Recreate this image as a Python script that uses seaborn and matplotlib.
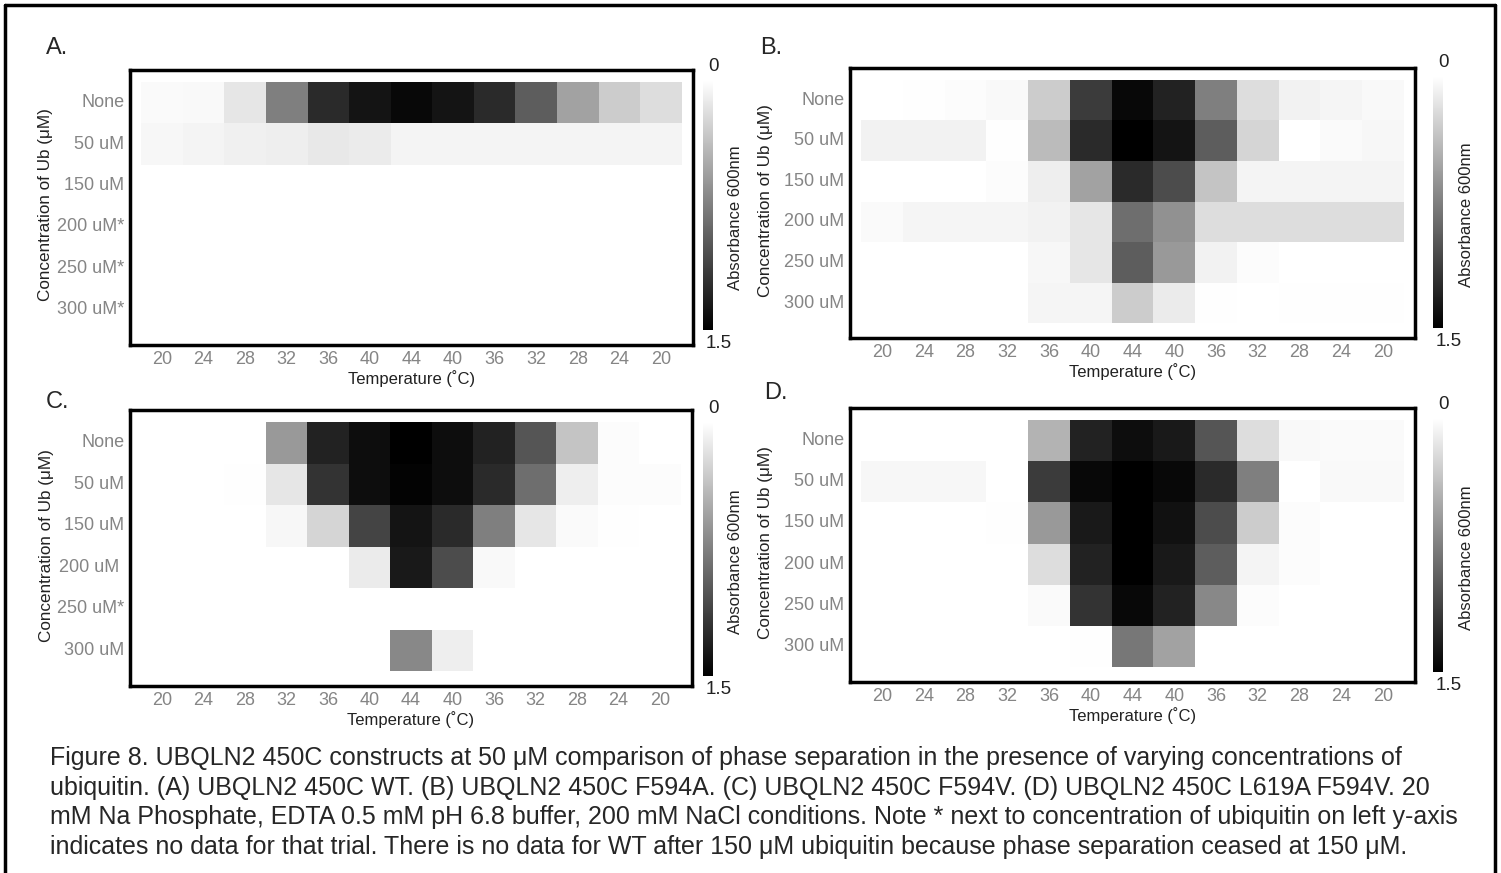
import seaborn as sns
import pandas as pd
import matplotlib.pyplot as plt
import numpy as np
from matplotlib.lines import Line2D

nan = np.nan

# x axis: temperature ramp up and back down
temps = ["20", "24", "28", "32", "36", "40", "44", "40", "36", "32", "28", "24", "20"]

# A. UBQLN2 450C WT  (no data after 150 uM)
concsA = ["None", "50 uM", "150 uM", "200 uM*", "250 uM*", "300 uM*"]
wt_none = [0.03, 0.04, 0.15, 0.75, 1.25, 1.38, 1.45, 1.38, 1.25, 0.95, 0.55, 0.30, 0.20]
wt_50 = [0.05, 0.07, 0.09, 0.10, 0.14, 0.12, 0.07, 0.07, 0.07, 0.07, 0.07, 0.07, 0.07]
wt_150 = [nan] * 13
wt_200 = [nan] * 13
wt_250 = [nan] * 13
wt_300 = [nan] * 13

# B. UBQLN2 450C F594A
concsB = ["None", "50 uM", "150 uM", "200 uM", "250 uM", "300 uM"]
fa_none = [0.00, 0.01, 0.02, 0.04, 0.30, 1.15, 1.45, 1.30, 0.75, 0.20, 0.08, 0.06, 0.04]
fa_50 = [0.08, 0.08, 0.08, 0.01, 0.40, 1.25, 1.50, 1.38, 0.95, 0.25, 0.00, 0.03, 0.05]
fa_150 = [0.00, 0.00, 0.00, 0.02, 0.10, 0.55, 1.25, 1.05, 0.35, 0.07, 0.07, 0.07, 0.07]
fa_200 = [0.03, 0.06, 0.06, 0.06, 0.08, 0.15, 0.85, 0.65, 0.20, 0.20, 0.20, 0.20, 0.20]
fa_250 = [0.00, 0.00, 0.00, 0.00, 0.05, 0.15, 0.95, 0.60, 0.08, 0.02, 0.00, 0.00, 0.00]
fa_300 = [0.00, 0.00, 0.00, 0.00, 0.06, 0.06, 0.30, 0.12, 0.01, 0.00, 0.01, 0.01, 0.01]

# C. UBQLN2 450C F594V  (no data at 250 uM)
concsC = ["None", "50 uM", "150 uM", "200 uM ", "250 uM*", "300 uM"]
fv_none = [0.00, 0.00, 0.00, 0.60, 1.30, 1.42, 1.50, 1.42, 1.30, 1.00, 0.35, 0.02, 0.00]
fv_50 = [0.00, 0.00, 0.01, 0.15, 1.20, 1.42, 1.48, 1.42, 1.25, 0.85, 0.10, 0.02, 0.02]
fv_150 = [0.00, 0.00, 0.00, 0.05, 0.25, 1.10, 1.38, 1.25, 0.75, 0.15, 0.03, 0.01, 0.00]
fv_200 = [nan, nan, nan, nan, 0.00, 0.12, 1.35, 1.05, 0.04, nan, nan, nan, nan]
fv_250 = [nan] * 13
fv_300 = [nan, nan, nan, nan, nan, 0.00, 0.70, 0.10, 0.00, nan, nan, nan, nan]

# D. UBQLN2 450C L619A F594V
concsD = ["None", "50 uM", "150 uM", "200 uM", "250 uM", "300 uM"]
lf_none = [0.00, 0.00, 0.00, 0.00, 0.45, 1.30, 1.42, 1.35, 1.00, 0.20, 0.04, 0.03, 0.03]
lf_50 = [0.05, 0.05, 0.05, 0.00, 1.15, 1.45, 1.50, 1.45, 1.25, 0.75, 0.00, 0.04, 0.04]
lf_150 = [0.00, 0.00, 0.00, 0.01, 0.60, 1.35, 1.50, 1.40, 1.05, 0.30, 0.02, 0.00, 0.00]
lf_200 = [0.00, 0.00, 0.00, 0.00, 0.20, 1.30, 1.50, 1.35, 0.95, 0.07, 0.02, 0.00, 0.00]
lf_250 = [0.00, 0.00, 0.00, 0.00, 0.03, 1.20, 1.45, 1.30, 0.70, 0.02, 0.00, 0.00, 0.00]
lf_300 = [0.00, 0.00, 0.00, 0.00, 0.00, 0.01, 0.80, 0.55, 0.00, 0.00, 0.00, 0.00, 0.00]

caption = ("Figure 8. UBQLN2 450C constructs at 50 \u03bcM comparison of phase separation in the presence of varying concentrations of\n"
           "ubiquitin. (A) UBQLN2 450C WT. (B) UBQLN2 450C F594A. (C) UBQLN2 450C F594V. (D) UBQLN2 450C L619A F594V. 20\n"
           "mM Na Phosphate, EDTA 0.5 mM pH 6.8 buffer, 200 mM NaCl conditions. Note * next to concentration of ubiquitin on left y-axis\n"
           "indicates no data for that trial. There is no data for WT after 150 \u03bcM ubiquitin because phase separation ceased at 150 \u03bcM.")

sns.set_style("white")
plt.rcParams['font.family'] = ['Liberation Sans', 'DejaVu Sans']

W, H = 1501, 873
fig = plt.figure(figsize=(W / 100, H / 100), dpi=100)

def box(x0, y0, x1, y1):
    # pixel box (top-left origin) -> figure fraction
    return [x0 / W, 1 - y1 / H, (x1 - x0) / W, (y1 - y0) / H]

panels = [
    ("A.", (46, 48), concsA, [wt_none, wt_50, wt_150, wt_200, wt_250, wt_300], (130, 70, 693, 345), (703, 80, 713, 330)),
    ("B.", (760, 48), concsB, [fa_none, fa_50, fa_150, fa_200, fa_250, fa_300], (850, 68, 1415, 338), (1433, 76, 1443, 328)),
    ("C.", (46, 402), concsC, [fv_none, fv_50, fv_150, fv_200, fv_250, fv_300], (130, 410, 692, 686), (703, 422, 713, 676)),
    ("D.", (764, 393), concsD, [lf_none, lf_50, lf_150, lf_200, lf_250, lf_300], (850, 408, 1415, 682), (1433, 418, 1443, 672)),
]

for letter, lpos, concs, rows, axbox, cbox in panels:
    ax = fig.add_axes(box(*axbox))
    cax = fig.add_axes(box(*cbox))
    df = pd.DataFrame(rows, index=concs, columns=range(len(temps)))
    sns.heatmap(df, ax=ax, cmap="gray_r", vmin=0, vmax=1.5, cbar_ax=cax,
                xticklabels=temps, yticklabels=concs)
    ax.set_xlim(-0.27, 13.27)
    ax.set_ylim(6.36, -0.29)
    for s in ax.spines.values():
        s.set_visible(True)
        s.set_linewidth(2.5)
        s.set_color("black")
    ax.tick_params(axis="both", direction="in", length=4, width=1.5, color="#555555",
                   labelcolor="#858585", labelsize=13, pad=4)
    ax.set_xticklabels(temps, rotation=0)
    ax.set_yticklabels(concs, rotation=0)
    ax.set_xlabel("Temperature (\u02daC)", fontsize=12, color="#222222", labelpad=2)
    ax.set_ylabel("Concentration of Ub (\u03bcM)", fontsize=12.3, color="#222222")
    ax.yaxis.set_label_coords(-0.136, 0.51)

    cax.invert_yaxis()
    cax.set_yticks([])
    cax.text(0.5, 1.02, "0", transform=cax.transAxes, ha="left", va="bottom", fontsize=13.5, color="#222222")
    cax.text(0.3, -0.02, "1.5", transform=cax.transAxes, ha="left", va="top", fontsize=13.5, color="#222222")
    cax.text(3.3, 0.45, "Absorbance 600nm", transform=cax.transAxes, rotation=90,
             ha="center", va="center", fontsize=12, color="#222222")

    fig.text(lpos[0] / W, 1 - lpos[1] / H, letter, fontsize=17, ha="left", va="center")

fig.text(50 / W, 1 - 746 / H, caption, fontsize=18, ha="left", va="top", linespacing=1.3)

# outer frame of the figure
for xs, ys in [((5, 5), (873, 5)), ((5, 1495), (5, 5)), ((1495, 1495), (5, 873))]:
    fig.add_artist(Line2D([x / W for x in xs], [1 - y / H for y in ys], color="black", lw=2.5))

fig.savefig("out.png", dpi=100)
